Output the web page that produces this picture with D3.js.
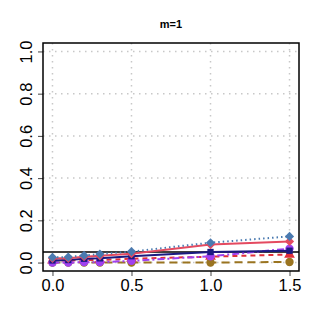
<!DOCTYPE html>
<html>
<head>
<meta charset="utf-8">
<script src="https://cdn.jsdelivr.net/npm/d3@7"></script>
<style>
body { margin: 0; background: #fff; }
text { font-family: "Liberation Sans", Arial, sans-serif; }
</style>
</head>
<body>
<div id="chart"></div>
<script>
let xVals = [0, 0.1, 0.2, 0.3, 0.5, 1.0, 1.5];
let xTicks = [0, 0.5, 1.0, 1.5];
let yTicks = [0, 0.2, 0.4, 0.6, 0.8, 1.0];
let refLine = 0.05;

let goldVals = [0.0, 0.0, 0.0, 0.0, 0.0, 0.0, 0.003];
let redDashVals = [0.01, 0.01, 0.012, 0.012, 0.018, 0.028, 0.038];
let purpleVals = [0.0, 0.0, 0.002, 0.002, 0.008, 0.03, 0.066];
let navyVals = [0.01, 0.012, 0.018, 0.02, 0.03, 0.05, 0.056];
let redVals = [0.02, 0.02, 0.028, 0.032, 0.042, 0.085, 0.1];
let blueVals = [0.025, 0.026, 0.034, 0.04, 0.052, 0.094, 0.124];

let series = [
    {vals: goldVals, color: "#9a7420", dash: "8,5", shape: "circle"},
    {vals: redDashVals, color: "#e0303a", dash: "5,4", shape: "triangle"},
    {vals: purpleVals, color: "#a040f0", dash: "7,3,2,3", shape: "circle"},
    {vals: navyVals, color: "#1a1a80", dash: null, shape: "square"},
    {vals: redVals, color: "#e44a60", dash: null, shape: "diamond"},
    {vals: blueVals, color: "#4a7ab0", dash: "1.5,3", shape: "diamond"}
];

let margin = {top: 43, left: 43, right: 22, bottom: 56};
let W = 321, H = 327;
let width = W - margin.left - margin.right;
let height = H - margin.top - margin.bottom;

let svg = d3.select("#chart").append("svg")
    .attr("width", W)
    .attr("height", H);

let xScale = d3.scaleLinear().domain([-0.06, 1.56]).range([0, width]);
let yScale = d3.scaleLinear().domain([-0.04, 1.04]).range([height, 0]);

let plot = svg.append("g")
    .attr("transform", `translate(${margin.left},${margin.top})`);

// grid
plot.selectAll(".gx").data(xTicks).enter().append("line")
    .attr("x1", d => xScale(d)).attr("x2", d => xScale(d))
    .attr("y1", 0).attr("y2", height)
    .attr("stroke", "#c8c8c8").attr("stroke-dasharray", "1.5,4.5").attr("stroke-width", 1.5);
plot.selectAll(".gy").data(yTicks).enter().append("line")
    .attr("y1", d => yScale(d)).attr("y2", d => yScale(d))
    .attr("x1", 0).attr("x2", width)
    .attr("stroke", "#c8c8c8").attr("stroke-dasharray", "1.5,4.5").attr("stroke-width", 1.5);

// axes
let xAxis = d3.axisBottom(xScale).tickValues(xTicks).tickFormat(d3.format(".1f")).tickSize(5);
let yAxis = d3.axisLeft(yScale).tickValues(yTicks).tickFormat(d3.format(".1f")).tickSize(5);

let gx = plot.append("g")
    .attr("transform", `translate(0,${height})`)
    .call(xAxis);
gx.select(".domain").remove();
gx.selectAll("line").attr("stroke", "#444");
gx.selectAll("text").attr("font-size", 16.5).attr("fill", "#000").attr("y", 8)
    .style("font-family", "Liberation Sans, Arial, sans-serif");

let gy = plot.append("g")
    .call(yAxis);
gy.select(".domain").remove();
gy.selectAll("line").attr("stroke", "#444");
gy.selectAll("text")
    .attr("font-size", 16.5).attr("fill", "#000")
    .attr("x", null).attr("dy", null)
    .attr("text-anchor", "middle")
    .attr("transform", "translate(-11,0) rotate(-90)")
    .style("font-family", "Liberation Sans, Arial, sans-serif");

// reference line
plot.append("line")
    .attr("x1", 0).attr("x2", width)
    .attr("y1", yScale(refLine)).attr("y2", yScale(refLine))
    .attr("stroke", "#000").attr("stroke-width", 1.5);

let line = d3.line()
    .x((d, i) => xScale(xVals[i]))
    .y(d => yScale(d));

let symbols = {
    circle: d3.symbol().type(d3.symbolCircle).size(55),
    triangle: d3.symbol().type(d3.symbolTriangle).size(50),
    square: d3.symbol().type(d3.symbolSquare).size(40),
    diamond: d3.symbol().type(d3.symbolSquare).size(42)
};

series.forEach(s => {
    plot.append("path")
        .datum(s.vals)
        .attr("d", line)
        .attr("fill", "none")
        .attr("stroke", s.color)
        .attr("stroke-width", 2)
        .attr("stroke-dasharray", s.dash);
    let rot = s.shape === "diamond" ? " rotate(45)" : "";
    plot.selectAll(null).data(s.vals).enter().append("path")
        .attr("d", symbols[s.shape])
        .attr("transform", (d, i) => `translate(${xScale(xVals[i])},${yScale(d)})${rot}`)
        .attr("fill", s.color);
});

// box
plot.append("rect")
    .attr("width", width).attr("height", height)
    .attr("fill", "none").attr("stroke", "#000").attr("stroke-width", 1.5);

svg.append("text")
    .attr("x", margin.left + width / 2)
    .attr("y", 28)
    .attr("text-anchor", "middle")
    .attr("font-size", 11)
    .attr("font-weight", "bold")
    .text("m=1");
</script>
</body>
</html>
